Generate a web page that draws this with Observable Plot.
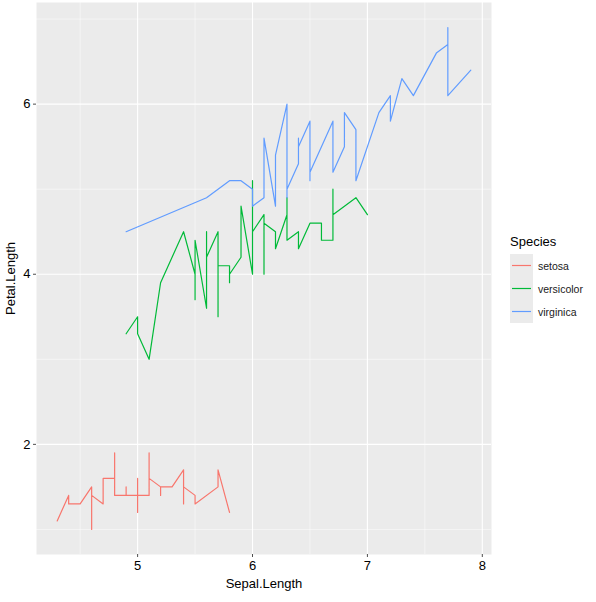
<!DOCTYPE html>
<html>
<head>
<meta charset="utf-8">
<script src="https://cdn.jsdelivr.net/npm/d3@7"></script>
<script src="https://cdn.jsdelivr.net/npm/@observablehq/plot@0.6"></script>
<style>
  body { margin: 0; background: #fff; font-family: "Liberation Sans", Arial, sans-serif; }
  #wrap { position: relative; width: 596px; height: 602px; }
  #legend { position: absolute; left: 510px; top: 234px; color: #000; }
  #legend .title { font-size: 13px; margin-bottom: 5px; }
  #legend .row { display: flex; align-items: center; height: 23px; }
  #legend .row span { font-size: 10.5px; margin-left: 5px; color: #1a1a1a; }
</style>
</head>
<body>
<div id="wrap">
  <div id="chart"></div>
  <div id="legend"></div>
</div>
<script>
// iris: Sepal.Length / Petal.Length per species (row order)
const setosaSepal = [5.1,4.9,4.7,4.6,5.0,5.4,4.6,5.0,4.4,4.9,5.4,4.8,4.8,4.3,5.8,5.7,5.4,5.1,5.7,5.1,5.4,5.1,4.6,5.1,4.8,5.0,5.0,5.2,5.2,4.7,4.8,5.4,5.2,5.5,4.9,5.0,5.5,4.9,4.4,5.1,5.0,4.5,4.4,5.0,5.1,4.8,5.1,4.6,5.3,5.0]
const setosaPetal = [1.4,1.4,1.3,1.5,1.4,1.7,1.4,1.5,1.4,1.5,1.5,1.6,1.4,1.1,1.2,1.5,1.3,1.4,1.7,1.5,1.7,1.5,1.0,1.7,1.9,1.6,1.6,1.5,1.4,1.6,1.6,1.5,1.5,1.4,1.5,1.2,1.3,1.4,1.3,1.5,1.3,1.3,1.3,1.6,1.9,1.4,1.6,1.4,1.5,1.4]
const versicolorSepal = [7.0,6.4,6.9,5.5,6.5,5.7,6.3,4.9,6.6,5.2,5.0,5.9,6.0,6.1,5.6,6.7,5.6,5.8,6.2,5.6,5.9,6.1,6.3,6.1,6.4,6.6,6.8,6.7,6.0,5.7,5.5,5.5,5.8,6.0,5.4,6.0,6.7,6.3,5.6,5.5,5.5,6.1,5.8,5.0,5.6,5.7,5.7,6.2,5.1,5.7]
const versicolorPetal = [4.7,4.5,4.9,4.0,4.6,4.5,4.7,3.3,4.6,3.9,3.5,4.2,4.0,4.7,3.6,4.4,4.5,4.1,4.5,3.9,4.8,4.0,4.9,4.7,4.3,4.4,4.8,5.0,4.5,3.5,3.8,3.7,3.9,5.1,4.5,4.5,4.7,4.4,4.1,4.0,4.4,4.6,4.0,3.3,4.2,4.2,4.2,4.3,3.0,4.1]
const virginicaSepal = [6.3,5.8,7.1,6.3,6.5,7.6,4.9,7.3,6.7,7.2,6.5,6.4,6.8,5.7,5.8,6.4,6.5,7.7,7.7,6.0,6.9,5.6,7.7,6.3,6.7,7.2,6.2,6.1,6.4,7.2,7.4,7.9,6.4,6.3,6.1,7.7,6.3,6.4,6.0,6.9,6.7,6.9,5.8,6.8,6.7,6.7,6.3,6.5,6.2,5.9]
const virginicaPetal = [6.0,5.1,5.9,5.6,5.8,6.6,4.5,6.3,5.8,6.1,5.1,5.3,5.5,5.0,5.1,5.3,5.5,6.7,6.9,5.0,5.7,4.9,6.7,4.9,5.7,6.0,4.8,4.9,5.6,5.8,6.1,6.4,5.6,5.1,5.6,6.1,5.6,5.5,4.8,5.4,5.6,5.1,5.1,5.9,5.7,5.2,5.0,5.2,5.4,5.1]

const species = ["setosa", "versicolor", "virginica"]
const colors = ["#F8766D", "#00BA38", "#619CFF"]

const xTicks = [5, 6, 7, 8]
const xMinor = [4.5, 5.5, 6.5, 7.5]
const yTicks = [2, 4, 6]
const yMinor = [1, 3, 5, 7]

const cols = {
  setosa: [setosaSepal, setosaPetal],
  versicolor: [versicolorSepal, versicolorPetal],
  virginica: [virginicaSepal, virginicaPetal]
}

// geom_line joins points in x order (stable for ties)
let data = []
species.forEach(s => {
  const [xs, ys] = cols[s]
  const rows = xs.map((x, i) => ({ species: s, sepal: x, petal: ys[i] }))
  data = data.concat(d3.sort(rows, d => d.sepal))
})

const chart = Plot.plot({
  width: 596,
  height: 602,
  marginLeft: 36,
  marginRight: 105,
  marginTop: 2,
  marginBottom: 48,
  style: { fontFamily: '"Liberation Sans", Arial, sans-serif', background: "#fff" },
  x: { domain: [4.12, 8.08] },
  y: { domain: [0.705, 7.195] },
  color: { domain: species, range: colors },
  marks: [
    Plot.frame({ fill: "#EBEBEB", stroke: null }),
    Plot.gridX(xMinor, { stroke: "#fff", strokeOpacity: 1, strokeWidth: 0.5 }),
    Plot.gridY(yMinor, { stroke: "#fff", strokeOpacity: 1, strokeWidth: 0.5 }),
    Plot.gridX(xTicks, { stroke: "#fff", strokeOpacity: 1, strokeWidth: 1.1 }),
    Plot.gridY(yTicks, { stroke: "#fff", strokeOpacity: 1, strokeWidth: 1.1 }),
    Plot.line(data, { x: "sepal", y: "petal", z: "species", stroke: "species", strokeWidth: 1.2 }),
    Plot.axisX(xTicks, {
      tickSize: 3, tickPadding: 3, fontSize: 10.5, color: "#4D4D4D", tickFormat: d => String(d),
      label: "Sepal.Length", labelAnchor: "center", labelArrow: "none", labelOffset: 33
    }),
    Plot.axisY(yTicks, {
      tickSize: 3, tickPadding: 3, fontSize: 10.5, color: "#4D4D4D", tickFormat: d => String(d),
      label: "Petal.Length", labelAnchor: "center", labelArrow: "none", labelOffset: 31
    })
  ]
})

// axis titles in black, like ggplot
d3.select(chart).selectAll("[aria-label$='axis label'] text, [aria-label$='label'] text").attr("fill", "#000").style("font-size", "13px")

d3.select("#chart").append(() => chart)

// legend
const legend = d3.select("#legend")
legend.append("div").attr("class", "title").text("Species")
species.forEach((s, i) => {
  const row = legend.append("div").attr("class", "row")
  const key = row.append("svg").attr("width", 23).attr("height", 23)
  key.append("rect").attr("width", 23).attr("height", 23).attr("fill", "#EBEBEB")
  key.append("line").attr("x1", 2).attr("x2", 21).attr("y1", 11.5).attr("y2", 11.5)
    .attr("stroke", colors[i]).attr("stroke-width", 1.2)
  row.append("span").text(s)
})
</script>
</body>
</html>
